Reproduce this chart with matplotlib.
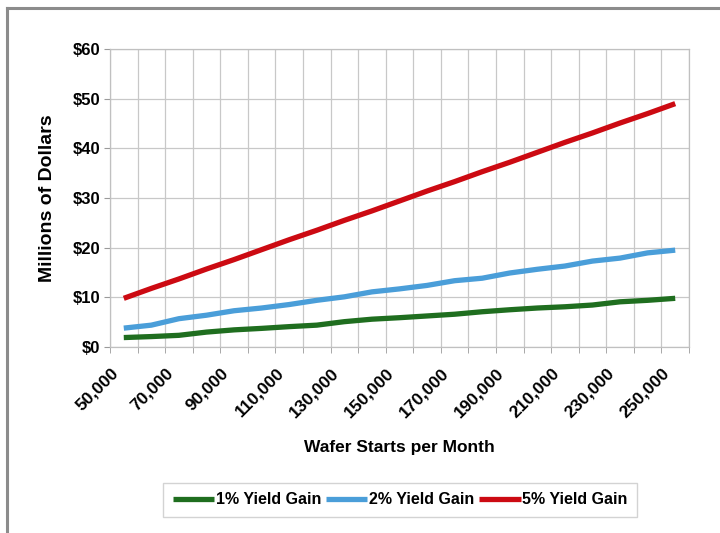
import matplotlib
matplotlib.use('Agg')
import matplotlib.pyplot as plt
import matplotlib.transforms as mtransforms
from matplotlib.lines import Line2D

plt.rcParams['font.family'] = ['Liberation Sans', 'DejaVu Sans']
plt.rcParams['font.weight'] = 'bold'

# wafer starts per month (categories)
wafers = [50000, 60000, 70000, 80000, 90000, 100000, 110000, 120000, 130000,
          140000, 150000, 160000, 170000, 180000, 190000, 200000, 210000,
          220000, 230000, 240000, 250000]

# millions of dollars
gain_1pct = [1.9, 2.1, 2.35, 3.0, 3.45, 3.75, 4.1, 4.4, 5.1, 5.6, 5.9,
             6.25, 6.6, 7.1, 7.5, 7.85, 8.1, 8.45, 9.1, 9.4, 9.8]
gain_2pct = [3.8, 4.4, 5.7, 6.4, 7.3, 7.85, 8.55, 9.4, 10.1, 11.1, 11.7,
             12.4, 13.35, 13.85, 14.9, 15.65, 16.3, 17.3, 17.9, 18.95, 19.5]
gain_5pct = [9.8, 11.8, 13.7, 15.7, 17.6, 19.6, 21.6, 23.5, 25.5, 27.4, 29.4,
             31.4, 33.3, 35.3, 37.2, 39.2, 41.2, 43.1, 45.1, 47.0, 49.0]

series_labels = ['1% Yield Gain', '2% Yield Gain', '5% Yield Gain']
colors = ['#1f6e1f', '#4a9ed9', '#cc0a12']

fig = plt.figure(figsize=(7.2, 5.33), dpi=100)
ax = fig.add_axes([110/720, 1 - 347/533, 579/720, 298/533])

idx = list(range(len(wafers)))
for vals, lab, c in zip([gain_1pct, gain_2pct, gain_5pct], series_labels, colors):
    ax.plot(idx, vals, color=c, lw=3.8, label=lab, solid_capstyle='butt')

ax.set_xlim(-0.5, len(wafers) - 0.5)
ax.set_ylim(0, 60)
ax.set_yticks([0, 10, 20, 30, 40, 50, 60])
ax.set_yticklabels(['$%d' % v for v in [0, 10, 20, 30, 40, 50, 60]], fontsize=12)

ax.set_xticks(idx[::2])
ax.set_xticklabels(['{:,}'.format(w) for w in wafers[::2]], fontsize=12.5,
                   rotation=45, ha='right', va='center', rotation_mode='anchor')
ax.set_xticks([i - 0.5 for i in range(len(wafers) + 1)], minor=True)
ax.tick_params(axis='x', which='major', length=0, pad=17)
ax.tick_params(axis='x', which='minor', length=4, color='#9a9a9a', direction='out')
ax.tick_params(axis='y', length=4, color='#9a9a9a', pad=3)

shift = mtransforms.ScaledTranslation(-8/100, 0, fig.dpi_scale_trans)
for t in ax.get_xticklabels():
    t.set_transform(t.get_transform() + shift)

ax.grid(True, which='minor', axis='x', color='#c8c8c8', lw=0.9)
ax.grid(True, which='major', axis='y', color='#c8c8c8', lw=0.9)
ax.set_axisbelow(True)
for s in ax.spines.values():
    s.set_color('#c0c0c0')
    s.set_linewidth(0.9)

ax.set_ylabel('Millions of Dollars', fontsize=14, fontweight='bold', labelpad=12)
ax.set_xlabel('Wafer Starts per Month', fontsize=12.5, fontweight='bold', labelpad=14)

leg = fig.legend(loc='center', bbox_to_anchor=(400/720, 1 - 500/533), ncol=3,
                 fontsize=11.5, frameon=True, fancybox=False, handlelength=2.6,
                 handletextpad=0.1, columnspacing=0.3, borderpad=0.6)
leg.get_frame().set_edgecolor('#c8c8c8')
leg.get_frame().set_linewidth(1.0)

# outer chart border (runs off the right and bottom edge)
fig.add_artist(Line2D([7/720, 1.01], [1 - 8/533, 1 - 8/533], color='#8c8c8c', lw=2.2))
fig.add_artist(Line2D([7/720, 7/720], [1 - 8/533, -0.01], color='#8c8c8c', lw=2.2))

fig.savefig('out.png', dpi=100)
